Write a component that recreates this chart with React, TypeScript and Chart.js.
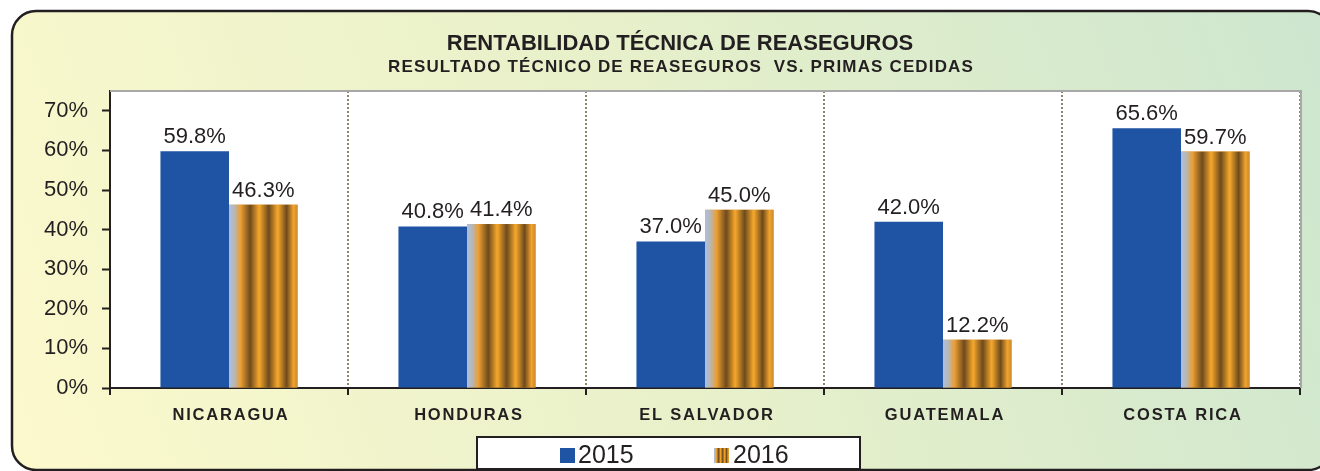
import { useEffect, useRef } from 'react';
import { Chart, registerables } from 'chart.js';

Chart.register(...registerables);

const categories = ['NICARAGUA', 'HONDURAS', 'EL SALVADOR', 'GUATEMALA', 'COSTA RICA'];
const series2015 = [59.8, 40.8, 37.0, 42.0, 65.6];
const series2016 = [46.3, 41.4, 45.0, 12.2, 59.7];
const seriesLabels = ['2015', '2016'];
const yTicks = [0, 10, 20, 30, 40, 50, 60, 70];
const titleText = 'RENTABILIDAD TÉCNICA DE REASEGUROS';
const subtitleText = 'RESULTADO TÉCNICO DE REASEGUROS  VS. PRIMAS CEDIDAS';

const FONT = "'Liberation Sans', Arial, sans-serif";
const TEXT = '#231f20';
const BLUE = '#1f53a4';

function stripeGradient(ctx: CanvasRenderingContext2D, x0: number, x1: number) {
  const g = ctx.createLinearGradient(x0, 0, x1, 0);
  const stops: [number, string][] = [
    [0, '#a9c0e3'],
    [0.08, '#bab6b0'],
    [0.17, '#eb9e32'],
    [0.31, '#6e4a1c'],
    [0.44, '#f7a82b'],
    [0.58, '#6e4a1c'],
    [0.71, '#f7a82b'],
    [0.84, '#6e4a1c'],
    [0.94, '#f2a32c'],
    [1, '#c98a2e'],
  ];
  stops.forEach(([o, c]) => g.addColorStop(o, c));
  return g;
}

export default function App() {
  const ref = useRef<HTMLCanvasElement>(null);

  useEffect(() => {
    const canvas = ref.current!;

    const framePlugin = {
      id: 'frame',
      beforeDraw(chart: any) {
        const ctx = chart.ctx as CanvasRenderingContext2D;
        ctx.save();
        ctx.fillStyle = '#ffffff';
        ctx.fillRect(0, 0, chart.width, chart.height);
        const x0 = 12, y0 = 11, x1 = 1332, y1 = 470, r = 24;
        const g = ctx.createLinearGradient(x0, y1, x1, y0);
        g.addColorStop(0, '#fcf9cd');
        g.addColorStop(0.5, '#e7f0ca');
        g.addColorStop(1, '#cde6cf');
        ctx.beginPath();
        (ctx as any).roundRect(x0, y0, x1 - x0, y1 - y0, r);
        ctx.fillStyle = g;
        ctx.fill();
        ctx.lineWidth = 2.5;
        ctx.strokeStyle = TEXT;
        ctx.stroke();
        const a = chart.chartArea;
        ctx.fillStyle = '#ffffff';
        ctx.fillRect(a.left, a.top, a.right - a.left, a.bottom - a.top);
        ctx.fillStyle = TEXT;
        ctx.textAlign = 'center';
        ctx.textBaseline = 'alphabetic';
        ctx.font = `bold 22px ${FONT}`;
        (ctx as any).letterSpacing = '0px';
        ctx.fillText(titleText, 680, 50);
        ctx.font = `bold 17px ${FONT}`;
        (ctx as any).letterSpacing = '1.15px';
        ctx.fillText(subtitleText, 681, 72);
        (ctx as any).letterSpacing = '0px';
        ctx.restore();
      },
      afterDatasetDraw(chart: any, args: any) {
        if (args.index !== 1) return;
        const ctx = chart.ctx as CanvasRenderingContext2D;
        ctx.save();
        args.meta.data.forEach((el: any) => {
          const p = el.getProps(['x', 'y', 'base', 'width'], true);
          const l = p.x - p.width / 2;
          const rgt = p.x + p.width / 2;
          ctx.fillStyle = stripeGradient(ctx, l, rgt);
          ctx.fillRect(l, p.y, p.width, p.base - p.y);
        });
        ctx.restore();
      },
      afterDatasetsDraw(chart: any) {
        const ctx = chart.ctx as CanvasRenderingContext2D;
        ctx.save();
        ctx.font = `22px ${FONT}`;
        ctx.fillStyle = TEXT;
        ctx.textAlign = 'center';
        ctx.textBaseline = 'alphabetic';
        chart.data.datasets.forEach((ds: any, di: number) => {
          const meta = chart.getDatasetMeta(di);
          meta.data.forEach((el: any, i: number) => {
            const p = el.getProps(['x', 'y'], true);
            ctx.fillText(ds.data[i].toFixed(1) + '%', p.x, p.y - 8);
          });
        });
        ctx.restore();
      },
      afterDraw(chart: any) {
        const ctx = chart.ctx as CanvasRenderingContext2D;
        const a = chart.chartArea;
        ctx.save();
        // plot area top/right border
        ctx.strokeStyle = '#a8a8a8';
        ctx.lineWidth = 2;
        ctx.beginPath();
        ctx.moveTo(a.left, a.top);
        ctx.lineTo(a.right + 1, a.top);
        ctx.lineTo(a.right + 1, a.bottom);
        ctx.stroke();
        // category labels
        const xs = chart.scales.x;
        ctx.fillStyle = TEXT;
        ctx.font = `bold 16.5px ${FONT}`;
        (ctx as any).letterSpacing = '1.8px';
        ctx.textAlign = 'center';
        ctx.textBaseline = 'alphabetic';
        categories.forEach((c, i) => {
          ctx.fillText(c, xs.getPixelForValue(i) + 2, 420);
        });
        (ctx as any).letterSpacing = '0px';
        // legend
        ctx.fillStyle = '#ffffff';
        ctx.fillRect(477, 437, 383, 32);
        ctx.strokeStyle = TEXT;
        ctx.lineWidth = 2;
        ctx.strokeRect(477, 437, 383, 32);
        ctx.fillStyle = BLUE;
        ctx.fillRect(560, 448, 15, 15);
        ctx.fillStyle = stripeGradient(ctx, 714, 729);
        ctx.fillRect(714, 448, 15, 15);
        ctx.fillStyle = TEXT;
        ctx.font = `25px ${FONT}`;
        ctx.textAlign = 'left';
        ctx.fillText(seriesLabels[0], 578, 463);
        ctx.fillText(seriesLabels[1], 733, 463);
        ctx.restore();
      },
    };

    const chart = new Chart(canvas, {
      type: 'bar',
      data: {
        labels: categories,
        datasets: [
          {
            label: seriesLabels[0],
            data: series2015,
            backgroundColor: BLUE,
            borderWidth: 0,
            categoryPercentage: 0.576,
            barPercentage: 1,
          },
          {
            label: seriesLabels[1],
            data: series2016,
            backgroundColor: '#e89d30',
            borderWidth: 0,
            categoryPercentage: 0.576,
            barPercentage: 1,
          },
        ],
      },
      options: {
        responsive: false,
        animation: false,
        devicePixelRatio: 1,
        layout: { padding: { left: 0, top: 91, right: 20, bottom: 0 } },
        plugins: {
          legend: { display: false },
          title: { display: false },
          tooltip: { enabled: false },
        },
        scales: {
          x: {
            afterFit: (s: any) => { s.height = 83; },
            grid: {
              offset: true,
              color: '#8c8767',
              lineWidth: 2,
              drawTicks: true,
              tickLength: 7,
              tickColor: TEXT,
              tickWidth: 2,
              tickBorderDash: [],
            } as any,
            border: { display: true, color: TEXT, width: 2, dash: [2, 2] },
            ticks: { display: false },
          },
          y: {
            min: 0,
            max: 75,
            afterBuildTicks: (s: any) => { s.ticks = yTicks.map((v) => ({ value: v })); },
            afterFit: (s: any) => { s.width = 110; },
            grid: {
              drawOnChartArea: false,
              drawTicks: true,
              tickLength: 8,
              tickColor: TEXT,
              tickWidth: 2,
            },
            border: { display: true, color: TEXT, width: 2 },
            ticks: {
              callback: (v: any) => v + '%',
              font: { family: FONT, size: 22 },
              color: TEXT,
              padding: 14,
            },
          },
        },
      },
      plugins: [framePlugin],
    });

    return () => chart.destroy();
  }, []);

  return (
    <div style={{ position: 'fixed', left: 0, top: 0, width: 1320, height: 471, overflow: 'hidden' }}>
      <canvas ref={ref} width={1320} height={471} style={{ display: 'block' }} />
    </div>
  );
}
